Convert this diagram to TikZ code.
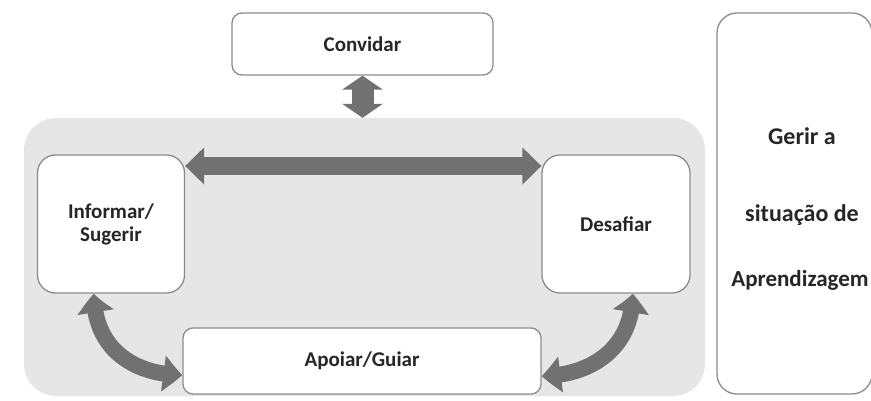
\documentclass[tikz,border=0pt]{standalone}
\usepackage{fontspec}
\setmainfont{Carlito}
\usetikzlibrary{arrows.meta,bending}
\definecolor{bg}{HTML}{E6E6E6}
\definecolor{arr}{HTML}{717171}
\definecolor{edge}{HTML}{8C8C8C}
\definecolor{txt}{HTML}{262626}
\begin{document}
\begin{tikzpicture}[x=1pt,y=-1pt,
  box/.style={draw=edge, line width=1.3pt, fill=white, rounded corners=#1, inner sep=0pt},
  lbl/.style={font=\bfseries\fontsize{21}{23}\selectfont, text=txt, align=center},
  rlbl/.style={font=\bfseries\fontsize{24}{26}\selectfont, text=txt, anchor=base, inner sep=0pt},
  barrow/.style={draw=arr, line width=#1}
]
\useasboundingbox (0,0) rectangle (871,401);
% background panel
\node[fill=bg, rounded corners=32pt, minimum width=681pt, minimum height=278pt, inner sep=0pt] (panel) at (364.5,257) {};
% boxes
\node[box=10pt, lbl, minimum width=261pt, minimum height=62pt] (conv) at (362.5,44) {Convidar};
\node[box=18pt, lbl, minimum width=147pt, minimum height=138pt] (inf) at (111,224) {Informar/\\Sugerir};
\node[box=18pt, lbl, minimum width=148pt, minimum height=138pt] (des) at (616,224) {Desafiar};
\node[box=10pt, lbl, minimum width=358pt, minimum height=66pt] (apo) at (362,361) {Apoiar/Guiar};
\node[box=20pt, minimum width=155pt, minimum height=381pt] (ger) at (794.5,203.5) {};
\node[rlbl] (g1) at (802,145) {Gerir a};
\node[rlbl] (g2) at (802,222) {situação de};
\node[rlbl, font=\bfseries\fontsize{23}{26}\selectfont] (g3) at (800,287) {Aprendizagem};
% arrows
\coordinate (hy) at (0,166);
\draw[barrow=18pt, {Triangle[length=19pt,width=36pt]}-{Triangle[length=19pt,width=36pt]}]
  (inf.east |- hy) -- (des.west |- hy);
\draw[barrow=22pt, {Triangle[length=14pt,width=40pt]}-{Triangle[length=14pt,width=40pt]}]
  (conv.south) -- (conv.south |- panel.north);
\draw[barrow=16pt, {Triangle[bend,length=19pt,width=35pt]}-{Triangle[bend,length=19pt,width=35pt]}]
  ([xshift=57pt]inf.south west) .. controls +(0,58) and +(-45,0) .. ([yshift=-14pt]apo.west);
\draw[barrow=16pt, {Triangle[bend,length=19pt,width=35pt]}-{Triangle[bend,length=19pt,width=35pt]}]
  ([xshift=-58pt]des.south east) .. controls +(0,58) and +(45,0) .. ([yshift=-15pt]apo.east);
\end{tikzpicture}
\end{document}
